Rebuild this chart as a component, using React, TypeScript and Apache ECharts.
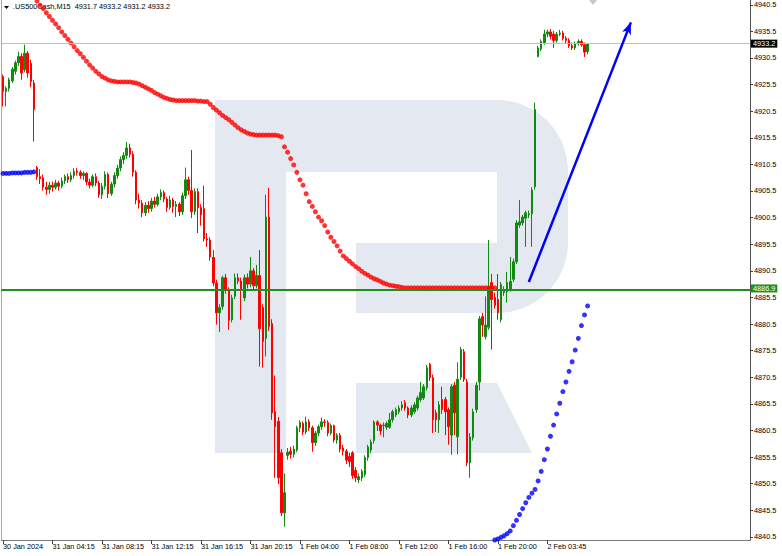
import React, { useEffect, useRef } from "react";
import * as echarts from "echarts";

const FONT = "'Liberation Sans', Arial, sans-serif";

const symbolName = ".US500Cash,M15";
const headerOHLC = [4931.7, 4933.2, 4931.2, 4933.2];

const TOTAL_BARS = 242;
const TICK_EVERY = 16;
const tickLabels = [
  "30 Jan 2024", "31 Jan 04:15", "31 Jan 08:15", "31 Jan 12:15", "31 Jan 16:15", "31 Jan 20:15",
  "1 Feb 04:00", "1 Feb 08:00", "1 Feb 12:00", "1 Feb 16:00", "1 Feb 20:00", "2 Feb 03:45",
];
const yTicks = [
  4840.5, 4845.5, 4850.5, 4855.5, 4860.5, 4865.5, 4870.5, 4875.5, 4880.5, 4885.5, 4890.5,
  4895.5, 4900.5, 4905.5, 4910.5, 4915.5, 4920.5, 4925.5, 4930.5, 4935.5, 4940.5,
];
const Y_MIN = 4839.9;
const Y_MAX = 4941.4;

// [open, close, low, high]
const candles: number[][] = [
  [4927.0, 4924.2, 4921.4, 4927.4], [4924.2, 4924.8, 4921.4, 4925.2], [4924.8, 4926.4, 4924.2, 4926.8],
  [4926.2, 4928.4, 4925.8, 4928.8], [4928.0, 4929.6, 4927.4, 4930.0], [4929.6, 4930.8, 4929.0, 4931.7],
  [4930.8, 4927.7, 4926.4, 4931.4], [4928.3, 4931.4, 4927.8, 4933.0], [4931.4, 4927.7, 4926.8, 4931.8],
  [4929.5, 4926.1, 4925.0, 4930.2], [4925.8, 4920.8, 4914.8, 4926.4],
  // 11
  [4909.9, 4908.2, 4907.6, 4910.2], [4908.2, 4907.8, 4906.8, 4909.6], [4908.0, 4906.2, 4905.6, 4908.6],
  [4906.2, 4905.8, 4904.8, 4907.2], [4905.8, 4906.6, 4905.0, 4907.2], [4906.6, 4906.2, 4905.4, 4907.3],
  [4906.2, 4907.0, 4905.8, 4907.6], [4907.0, 4906.4, 4905.6, 4907.4], [4906.4, 4907.4, 4906.0, 4908.0],
  [4907.4, 4908.2, 4906.8, 4908.6], [4908.2, 4907.6, 4907.0, 4908.8], [4907.6, 4908.4, 4907.2, 4909.0],
  [4908.4, 4909.2, 4907.8, 4909.8], [4909.2, 4909.0, 4908.4, 4909.8], [4909.0, 4908.4, 4907.8, 4909.4],
  [4908.4, 4908.8, 4907.6, 4909.2], [4908.8, 4907.2, 4906.6, 4909.0], [4907.2, 4906.6, 4906.0, 4907.8],
  [4906.6, 4908.2, 4906.2, 4908.6], [4908.2, 4907.0, 4906.4, 4908.8], [4907.0, 4904.8, 4904.2, 4907.4],
  [4904.8, 4906.4, 4904.0, 4907.0], [4906.4, 4908.6, 4905.8, 4909.2], [4908.6, 4905.0, 4904.2, 4909.0],
  // 35
  [4905.0, 4906.8, 4904.6, 4907.2], [4906.8, 4908.4, 4906.2, 4909.0], [4908.4, 4909.8, 4907.8, 4910.4],
  [4909.8, 4911.4, 4909.2, 4912.0], [4911.4, 4912.2, 4910.6, 4912.8], [4912.2, 4913.6, 4911.6, 4914.7],
  [4913.6, 4912.4, 4911.8, 4914.4], [4912.4, 4909.0, 4908.2, 4913.0], [4909.0, 4903.8, 4903.0, 4909.4],
  [4903.8, 4903.2, 4902.2, 4905.0],
  // 45
  [4903.2, 4901.4, 4900.6, 4903.8], [4901.4, 4902.8, 4900.8, 4903.4], [4902.8, 4902.2, 4901.4, 4903.6],
  [4902.2, 4903.6, 4901.6, 4904.2], [4903.6, 4903.0, 4902.4, 4904.4], [4903.0, 4904.4, 4902.6, 4905.0],
  [4904.4, 4905.2, 4903.8, 4905.8], [4905.2, 4904.0, 4903.4, 4905.6], [4904.0, 4902.4, 4901.6, 4904.4],
  [4902.4, 4903.8, 4902.0, 4904.6], [4903.8, 4902.6, 4901.4, 4904.2], [4902.6, 4903.0, 4900.6, 4903.6],
  [4903.0, 4901.6, 4900.8, 4903.4], [4901.6, 4904.6, 4901.0, 4905.2], [4904.6, 4907.6, 4904.0, 4909.9],
  [4907.6, 4905.6, 4904.8, 4908.2], [4905.6, 4901.6, 4900.4, 4913.2], [4901.6, 4905.4, 4901.0, 4906.0],
  // 63
  [4905.4, 4902.4, 4897.6, 4906.0], [4902.4, 4901.0, 4899.0, 4903.0], [4902.2, 4896.5, 4896.0, 4906.5],
  [4896.5, 4896.3, 4895.0, 4897.6], [4896.3, 4893.1, 4892.4, 4896.8], [4893.0, 4888.2, 4887.6, 4894.4],
  [4888.2, 4882.6, 4880.4, 4888.8], [4882.6, 4883.6, 4879.0, 4884.2], [4883.8, 4889.2, 4883.2, 4889.6],
  [4889.2, 4886.8, 4886.2, 4889.9], [4886.8, 4881.2, 4879.4, 4887.4], [4881.3, 4885.4, 4880.8, 4886.0],
  [4885.7, 4889.2, 4885.2, 4890.0], [4889.2, 4888.6, 4888.0, 4890.0], [4888.6, 4886.8, 4881.3, 4889.2],
  [4885.4, 4889.2, 4884.8, 4889.8], [4889.2, 4888.0, 4887.2, 4890.0], [4888.0, 4890.5, 4887.4, 4893.1],
  [4890.5, 4887.7, 4887.0, 4891.0], [4887.7, 4889.6, 4887.2, 4891.6], [4889.6, 4879.6, 4872.5, 4894.4],
  [4883.6, 4877.2, 4872.3, 4884.2], [4877.8, 4900.6, 4874.4, 4904.8], [4900.6, 4880.0, 4879.2, 4906.1],
  [4880.6, 4863.8, 4862.5, 4881.4], [4864.0, 4861.2, 4851.6, 4870.8], [4862.2, 4851.6, 4850.4, 4863.0],
  [4856.3, 4845.0, 4844.4, 4857.0], [4845.0, 4848.8, 4842.4, 4852.4],
  // 92
  [4855.8, 4856.4, 4855.0, 4857.2], [4856.6, 4856.0, 4855.2, 4857.4], [4856.0, 4857.0, 4855.4, 4857.6],
  [4856.8, 4861.0, 4856.4, 4861.4], [4861.0, 4862.0, 4860.2, 4862.4], [4861.8, 4860.2, 4859.6, 4862.2],
  [4860.2, 4862.1, 4859.8, 4863.1], [4862.1, 4861.0, 4860.4, 4862.6], [4861.0, 4858.2, 4856.5, 4861.4],
  [4858.2, 4860.0, 4857.6, 4860.4], [4860.0, 4861.2, 4859.4, 4861.6], [4861.2, 4862.1, 4860.6, 4862.9],
  [4862.1, 4862.0, 4861.2, 4862.6], [4862.0, 4860.0, 4859.4, 4862.4], [4860.0, 4861.4, 4859.6, 4861.8],
  [4861.4, 4858.7, 4858.2, 4861.6], [4858.7, 4859.6, 4858.0, 4860.0], [4859.6, 4857.0, 4856.4, 4860.0],
  [4857.2, 4856.6, 4855.8, 4857.8], [4856.6, 4854.9, 4854.2, 4857.0], [4855.6, 4854.6, 4853.6, 4856.3],
  [4856.3, 4852.0, 4851.4, 4856.6], [4853.0, 4851.6, 4850.8, 4853.6], [4851.2, 4851.8, 4850.6, 4852.4],
  [4851.6, 4852.8, 4851.0, 4853.2], [4852.2, 4855.4, 4851.8, 4855.8], [4855.4, 4857.4, 4854.8, 4857.8],
  [4856.8, 4858.3, 4856.2, 4858.8], [4858.6, 4862.1, 4858.0, 4862.4],
  // 121
  [4862.1, 4861.5, 4860.4, 4862.4], [4861.5, 4860.4, 4859.6, 4861.8], [4861.4, 4861.5, 4859.2, 4862.0],
  [4861.1, 4861.8, 4860.6, 4862.2], [4861.1, 4862.5, 4860.8, 4863.8], [4862.5, 4864.0, 4862.0, 4864.4],
  [4863.4, 4864.4, 4863.0, 4864.8], [4864.0, 4864.7, 4863.6, 4865.2], [4864.7, 4865.3, 4864.2, 4866.0],
  [4865.7, 4864.7, 4864.2, 4866.2], [4864.7, 4863.4, 4862.8, 4865.0], [4863.4, 4864.7, 4863.0, 4865.2],
  [4864.0, 4865.3, 4863.6, 4865.8], [4864.7, 4866.6, 4864.2, 4867.0], [4866.3, 4867.6, 4865.8, 4869.6],
  [4866.6, 4868.7, 4866.2, 4869.2], [4868.5, 4872.3, 4868.0, 4872.8], [4872.9, 4870.4, 4869.8, 4873.2],
  [4870.4, 4862.5, 4860.0, 4871.0], [4863.8, 4862.5, 4860.2, 4864.4], [4862.5, 4865.3, 4860.0, 4866.0],
  [4866.3, 4864.4, 4863.6, 4868.7], [4866.3, 4864.0, 4859.6, 4866.8], [4864.4, 4861.2, 4857.8, 4864.8],
  [4859.6, 4868.7, 4855.9, 4869.2], [4869.0, 4863.8, 4859.6, 4869.6], [4859.3, 4870.1, 4856.0, 4873.3],
  [4870.5, 4875.7, 4870.0, 4876.2], [4875.3, 4870.1, 4869.6, 4875.8], [4869.6, 4854.4, 4853.8, 4870.2],
  [4854.4, 4859.3, 4851.6, 4860.0], [4859.1, 4864.0, 4858.6, 4864.6], [4864.4, 4869.0, 4863.8, 4869.6],
  [4869.6, 4881.5, 4868.0, 4882.0],
  // 155
  [4881.9, 4880.3, 4878.1, 4882.6], [4878.1, 4880.3, 4877.6, 4885.7], [4879.9, 4887.5, 4879.4, 4896.3],
  [4888.3, 4885.1, 4875.7, 4889.9], [4885.5, 4884.0, 4883.4, 4886.4], [4885.1, 4882.6, 4881.3, 4889.9],
  [4881.3, 4887.9, 4880.8, 4888.4], [4886.4, 4887.0, 4885.8, 4887.6], [4886.6, 4888.3, 4884.5, 4890.3],
  [4887.0, 4888.5, 4886.6, 4893.1], [4888.9, 4892.2, 4888.4, 4892.8], [4892.2, 4899.5, 4891.8, 4900.0],
  [4899.1, 4899.7, 4898.6, 4903.8], [4899.5, 4900.6, 4899.0, 4901.0], [4900.4, 4901.4, 4895.0, 4901.8],
  [4901.0, 4901.2, 4900.4, 4901.8], [4901.2, 4905.7, 4895.0, 4906.2], [4906.3, 4920.8, 4905.8, 4922.1],
  // 173
  [4930.8, 4932.4, 4930.6, 4932.8], [4932.2, 4933.6, 4931.8, 4934.0], [4933.4, 4935.0, 4933.0, 4935.8],
  [4935.0, 4935.4, 4934.4, 4935.8], [4935.4, 4934.6, 4934.0, 4935.9], [4935.0, 4933.8, 4932.4, 4935.6],
  [4933.8, 4935.0, 4933.4, 4935.4], [4935.0, 4935.2, 4934.6, 4935.8], [4935.2, 4934.2, 4933.8, 4935.6],
  [4934.2, 4933.8, 4933.2, 4934.6], [4933.8, 4932.8, 4932.4, 4934.2], [4932.8, 4932.4, 4932.0, 4933.4],
  [4932.4, 4933.2, 4932.0, 4933.6], [4933.2, 4933.6, 4932.8, 4934.0], [4933.6, 4933.0, 4932.6, 4934.0],
  [4933.0, 4931.6, 4930.7, 4933.4], [4931.7, 4933.2, 4931.2, 4933.2],
];

const redStart = 11;
const redDots = [
  4941.2, 4940.4, 4939.8, 4939.0, 4938.3, 4937.6, 4936.9, 4936.2, 4935.4, 4934.7,
  4934.0, 4933.3, 4932.6, 4931.9, 4931.3, 4930.6, 4929.9, 4929.2, 4928.6, 4928.0,
  4927.5, 4927.0, 4926.7, 4926.4, 4926.2, 4926.1, 4926.0, 4926.0, 4926.0, 4926.0,
  4926.0, 4925.9, 4925.8, 4925.6, 4925.3, 4925.0, 4924.7, 4924.4, 4924.0, 4923.7,
  4923.4, 4923.1, 4922.9, 4922.7, 4922.6, 4922.5, 4922.5, 4922.5, 4922.5, 4922.5,
  4922.5, 4922.5, 4922.4, 4922.4, 4922.3, 4922.3, 4921.8, 4921.2, 4920.7, 4920.2,
  4919.7, 4919.3, 4918.9, 4918.4, 4917.9, 4917.4, 4917.0, 4916.7, 4916.4, 4916.2,
  4916.1, 4916.0, 4916.0, 4916.0, 4916.0, 4916.0, 4916.0, 4916.0, 4915.9, 4915.7,
  4913.8, 4912.8, 4911.6, 4910.4, 4909.0, 4907.6, 4906.6, 4905.0, 4903.5, 4902.6,
  4901.6, 4900.6, 4899.9, 4899.0, 4897.8, 4896.8, 4896.0, 4895.2, 4894.2, 4893.3,
  4892.8, 4892.3, 4891.8, 4891.3, 4890.9, 4890.4, 4890.0, 4889.7, 4889.3, 4889.0,
  4888.8, 4888.5, 4888.2, 4888.0, 4887.8, 4887.7, 4887.6, 4887.5, 4887.4, 4887.3,
  4887.3, 4887.3, 4887.3, 4887.3, 4887.3, 4887.3, 4887.3, 4887.3, 4887.3, 4887.3,
  4887.3, 4887.3, 4887.3, 4887.3, 4887.3, 4887.3, 4887.3, 4887.3, 4887.3, 4887.3,
  4887.3, 4887.3, 4887.3, 4887.3, 4887.3, 4887.3, 4887.3, 4887.3, 4887.3,
];

const blueLeftStart = 0;
const blueLeft = [4908.8, 4908.8, 4908.8, 4908.9, 4908.9, 4908.9, 4908.9, 4909.0, 4909.0, 4909.0, 4909.1];

const blueRightStart = 158;
const blueRight = [
  4839.6, 4839.9, 4840.1, 4840.4, 4840.7, 4841.1, 4841.6, 4842.6, 4843.6, 4844.7,
  4845.8, 4846.9, 4847.9, 4848.7, 4849.4, 4851.0, 4852.8, 4855.0, 4857.0, 4859.4,
  4861.5, 4863.6, 4865.6, 4867.8, 4869.6, 4871.6, 4873.4, 4875.6, 4877.8, 4880.2,
  4882.2, 4883.9,
];

const supportLevel = 4886.9;
const lastPrice = 4933.2;
const arrowFrom = [170, 4888.4];
const arrowTo = [203, 4937.2];

const LOGO_D =
  "M215 100 H497 A71 71 0 0 1 568 171 V242 A71 71 0 0 1 497 313 H356 V243 H497 V172 H286 V453 H215 Z " +
  "M356 383 H497 L532 453 H356 Z";

let logoRegistered = false;

export default function App() {
  const ref = useRef<HTMLDivElement>(null);

  useEffect(() => {
    if (!ref.current) return;
    if (!logoRegistered) {
      echarts.graphic.registerShape("logo", (echarts.graphic as any).extendPath(LOGO_D, {}));
      logoRegistered = true;
    }
    const chart = echarts.init(ref.current, undefined, { renderer: "svg" });

    const cats = Array.from({ length: TOTAL_BARS }, (_, i) => String(i));
    const showTick = (i: number) => i % TICK_EVERY === 0 && i / TICK_EVERY < tickLabels.length;

    const toPts = (start: number, arr: number[]) => arr.map((v, k) => [start + k, v]);

    const option: any = {
      animation: false,
      backgroundColor: "#ffffff",
      textStyle: { fontFamily: FONT },
      grid: { left: 1, right: 32, top: 0, bottom: 16, containLabel: false },
      xAxis: {
        type: "category",
        data: cats,
        boundaryGap: true,
        axisLine: { show: true, lineStyle: { color: "#7a7a7a", width: 1 } },
        axisTick: {
          show: true,
          alignWithLabel: true,
          interval: (i: number) => showTick(i),
          length: 4,
          lineStyle: { color: "#404040" },
        },
        axisLabel: {
          interval: (i: number) => showTick(i),
          formatter: (v: string) => tickLabels[Number(v) / TICK_EVERY] ?? "",
          align: "left",
          margin: 3,
          fontSize: 7.3,
          color: "#000",
          fontFamily: FONT,
        },
        splitLine: { show: false },
      },
      yAxis: [
        {
          type: "value",
          position: "right",
          min: Y_MIN,
          max: Y_MAX,
          axisLine: { show: true, lineStyle: { color: "#505050" } },
          axisTick: { show: true, length: 3, customValues: yTicks, lineStyle: { color: "#404040" } },
          axisLabel: {
            customValues: yTicks,
            formatter: (v: number) => v.toFixed(1),
            fontSize: 7.3,
            color: "#000",
            margin: 4,
            fontFamily: FONT,
          },
          splitLine: { show: false },
        },
        {
          type: "value",
          position: "left",
          min: Y_MIN,
          max: Y_MAX,
          axisLine: { show: true, lineStyle: { color: "#a8a8a8" } },
          axisTick: { show: false },
          axisLabel: { show: false },
          splitLine: { show: false },
        },
      ],
      graphic: [
        {
          type: "logo",
          x: 0,
          y: 0,
          z: -10,
          silent: true,
          style: { fill: "#e3e8f1" },
        },
        {
          type: "polygon",
          z: 1,
          shape: { points: [[4, 6], [9, 6], [6.5, 9]] },
          style: { fill: "#000" },
        },
        {
          type: "text",
          z: 1,
          x: 13,
          y: 3,
          style: {
            text: symbolName + "  " + headerOHLC.map((v) => v.toFixed(1)).join(" "),
            fontSize: 7.3,
            fill: "#000",
            fontFamily: FONT,
          },
        },
        {
          type: "polygon",
          z: 1,
          shape: { points: [[589, 0], [597, 0], [593, 5]] },
          style: { fill: "#c8c8c8" },
        },
      ],
      series: [
        {
          type: "candlestick",
          data: candles,
          barWidth: 2,
          itemStyle: {
            color: "#128a12",
            color0: "#ff0000",
            borderColor: "#128a12",
            borderColor0: "#ff0000",
            borderWidth: 1,
          },
          markLine: {
            silent: true,
            symbol: ["none", "none"],
            symbolSize: [7, 12],
            animation: false,
            data: [
              {
                yAxis: lastPrice,
                lineStyle: { color: "#c0c0c0", width: 1, type: "solid" },
                label: {
                  show: true,
                  position: "end",
                  formatter: lastPrice.toFixed(1),
                  backgroundColor: "#000",
                  color: "#fff",
                  padding: [1, 2, 0, 2],
                  fontSize: 7.3,
                  distance: 1,
                  fontFamily: FONT,
                },
              },
              {
                yAxis: supportLevel,
                lineStyle: { color: "#1f8f1f", width: 2, type: "solid" },
                label: {
                  show: true,
                  position: "end",
                  formatter: supportLevel.toFixed(1),
                  backgroundColor: "#1f8f1f",
                  color: "#fff",
                  padding: [1, 2, 0, 2],
                  fontSize: 7.3,
                  distance: 1,
                  offset: [0, -1.5],
                  fontFamily: FONT,
                },
              },
              [
                {
                  coord: arrowFrom,
                  symbol: "none",
                  lineStyle: { color: "#0000ff", width: 2.5, type: "solid" },
                  label: { show: false },
                },
                {
                  coord: arrowTo,
                  symbol: "arrow",
                  symbolSize: [7, 12],
                  lineStyle: { color: "#0000ff", width: 2.5, type: "solid" },
                  label: { show: false },
                },
              ],
            ],
          },
        },
        {
          type: "scatter",
          data: toPts(redStart, redDots),
          symbol: "circle",
          symbolSize: 5,
          itemStyle: { color: "#ff0000" },
          z: 3,
        },
        {
          type: "scatter",
          data: toPts(blueLeftStart, blueLeft),
          symbol: "circle",
          symbolSize: 5,
          itemStyle: { color: "#0000ff" },
          z: 3,
        },
        {
          type: "scatter",
          data: toPts(blueRightStart, blueRight),
          symbol: "circle",
          symbolSize: 5,
          itemStyle: { color: "#0000ff" },
          z: 3,
        },
      ],
    };

    chart.setOption(option);
    return () => chart.dispose();
  }, []);

  return (
    <div
      ref={ref}
      style={{ position: "fixed", left: 0, top: 0, width: 782, height: 556, background: "#fff" }}
    />
  );
}
